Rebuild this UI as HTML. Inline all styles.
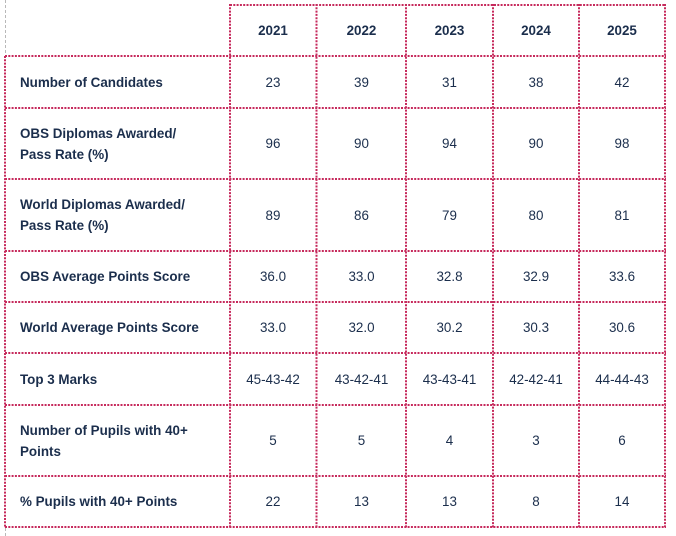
<!DOCTYPE html>
<html><head><meta charset="utf-8"><style>
html,body{margin:0;padding:0;background:#fff;}
body{width:676px;height:536px;position:relative;overflow:hidden;font-family:"Liberation Sans",Arial,sans-serif;color:#1b2e4c;}
.c{position:absolute;display:flex;align-items:center;font-size:13.4px;line-height:21px;}
.l{left:20px;width:205px;font-weight:bold;}
.v{justify-content:center;text-align:center;}
.h{font-weight:bold;}
svg{position:absolute;left:0;top:0;}
</style></head><body>
<svg width="676" height="536">
<g stroke="#b9b9b9" stroke-width="1" stroke-dasharray="3 2">
<line x1="5.5" y1="0" x2="5.5" y2="56"/>
<line x1="5.5" y1="528" x2="5.5" y2="536"/>
</g>
<g stroke="#c62a5c" stroke-width="2" stroke-dasharray="2 1.3">
<line x1="230" y1="5" x2="666" y2="5"/>
<line x1="5" y1="56" x2="666" y2="56"/>
<line x1="5" y1="108" x2="666" y2="108"/>
<line x1="5" y1="179" x2="666" y2="179"/>
<line x1="5" y1="251" x2="666" y2="251"/>
<line x1="5" y1="302" x2="666" y2="302"/>
<line x1="5" y1="353" x2="666" y2="353"/>
<line x1="5" y1="405" x2="666" y2="405"/>
<line x1="5" y1="476" x2="666" y2="476"/>
<line x1="5" y1="527" x2="666" y2="527"/>
<line x1="5" y1="56" x2="5" y2="528"/>
<line x1="230" y1="4" x2="230" y2="528"/>
<line x1="316.5" y1="4" x2="316.5" y2="528"/>
<line x1="406" y1="4" x2="406" y2="528"/>
<line x1="493" y1="4" x2="493" y2="528"/>
<line x1="579" y1="4" x2="579" y2="528"/>
<line x1="665" y1="4" x2="665" y2="528"/>
</g>
</svg>

<!-- header -->
<div class="c v h" style="left:230px;width:86px;top:5px;height:51px;">2021</div>
<div class="c v h" style="left:317px;width:89px;top:5px;height:51px;">2022</div>
<div class="c v h" style="left:406px;width:87px;top:5px;height:51px;">2023</div>
<div class="c v h" style="left:493px;width:86px;top:5px;height:51px;">2024</div>
<div class="c v h" style="left:579px;width:86px;top:5px;height:51px;">2025</div>

<!-- row 1 -->
<div class="c l" style="top:56px;height:52px;">Number of Candidates</div>
<div class="c v" style="left:230px;width:86px;top:56px;height:52px;">23</div>
<div class="c v" style="left:317px;width:89px;top:56px;height:52px;">39</div>
<div class="c v" style="left:406px;width:87px;top:56px;height:52px;">31</div>
<div class="c v" style="left:493px;width:86px;top:56px;height:52px;">38</div>
<div class="c v" style="left:579px;width:86px;top:56px;height:52px;">42</div>

<!-- row 2 -->
<div class="c l" style="top:108px;height:71px;">OBS Diplomas Awarded/<br>Pass Rate (%)</div>
<div class="c v" style="left:230px;width:86px;top:108px;height:71px;">96</div>
<div class="c v" style="left:317px;width:89px;top:108px;height:71px;">90</div>
<div class="c v" style="left:406px;width:87px;top:108px;height:71px;">94</div>
<div class="c v" style="left:493px;width:86px;top:108px;height:71px;">90</div>
<div class="c v" style="left:579px;width:86px;top:108px;height:71px;">98</div>

<!-- row 3 -->
<div class="c l" style="top:179px;height:72px;">World Diplomas Awarded/<br>Pass Rate (%)</div>
<div class="c v" style="left:230px;width:86px;top:179px;height:72px;">89</div>
<div class="c v" style="left:317px;width:89px;top:179px;height:72px;">86</div>
<div class="c v" style="left:406px;width:87px;top:179px;height:72px;">79</div>
<div class="c v" style="left:493px;width:86px;top:179px;height:72px;">80</div>
<div class="c v" style="left:579px;width:86px;top:179px;height:72px;">81</div>

<!-- row 4 -->
<div class="c l" style="top:251px;height:51px;">OBS Average Points Score</div>
<div class="c v" style="left:230px;width:86px;top:251px;height:51px;">36.0</div>
<div class="c v" style="left:317px;width:89px;top:251px;height:51px;">33.0</div>
<div class="c v" style="left:406px;width:87px;top:251px;height:51px;">32.8</div>
<div class="c v" style="left:493px;width:86px;top:251px;height:51px;">32.9</div>
<div class="c v" style="left:579px;width:86px;top:251px;height:51px;">33.6</div>

<!-- row 5 -->
<div class="c l" style="top:302px;height:51px;">World Average Points Score</div>
<div class="c v" style="left:230px;width:86px;top:302px;height:51px;">33.0</div>
<div class="c v" style="left:317px;width:89px;top:302px;height:51px;">32.0</div>
<div class="c v" style="left:406px;width:87px;top:302px;height:51px;">30.2</div>
<div class="c v" style="left:493px;width:86px;top:302px;height:51px;">30.3</div>
<div class="c v" style="left:579px;width:86px;top:302px;height:51px;">30.6</div>

<!-- row 6 -->
<div class="c l" style="top:353px;height:52px;">Top 3 Marks</div>
<div class="c v" style="left:230px;width:86px;top:353px;height:52px;">45-43-42</div>
<div class="c v" style="left:317px;width:89px;top:353px;height:52px;">43-42-41</div>
<div class="c v" style="left:406px;width:87px;top:353px;height:52px;">43-43-41</div>
<div class="c v" style="left:493px;width:86px;top:353px;height:52px;">42-42-41</div>
<div class="c v" style="left:579px;width:86px;top:353px;height:52px;">44-44-43</div>

<!-- row 7 -->
<div class="c l" style="top:405px;height:71px;">Number of Pupils with 40+<br>Points</div>
<div class="c v" style="left:230px;width:86px;top:405px;height:71px;">5</div>
<div class="c v" style="left:317px;width:89px;top:405px;height:71px;">5</div>
<div class="c v" style="left:406px;width:87px;top:405px;height:71px;">4</div>
<div class="c v" style="left:493px;width:86px;top:405px;height:71px;">3</div>
<div class="c v" style="left:579px;width:86px;top:405px;height:71px;">6</div>

<!-- row 8 -->
<div class="c l" style="top:476px;height:51px;">% Pupils with 40+ Points</div>
<div class="c v" style="left:230px;width:86px;top:476px;height:51px;">22</div>
<div class="c v" style="left:317px;width:89px;top:476px;height:51px;">13</div>
<div class="c v" style="left:406px;width:87px;top:476px;height:51px;">13</div>
<div class="c v" style="left:493px;width:86px;top:476px;height:51px;">8</div>
<div class="c v" style="left:579px;width:86px;top:476px;height:51px;">14</div>
</body></html>
